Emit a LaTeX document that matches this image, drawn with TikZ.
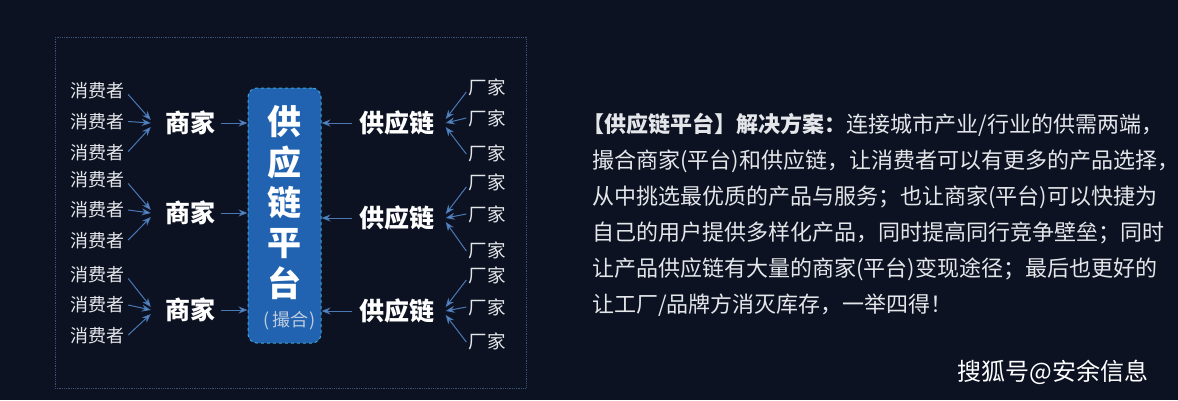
\documentclass[tikz,border=0pt]{standalone}
\usepackage{fontspec}
\setmainfont{Noto Sans CJK SC}
\usetikzlibrary{positioning}
\usetikzlibrary{arrows.meta}

\definecolor{bgnavy}{HTML}{0C1222}
\definecolor{platblue}{HTML}{2163B0}
\definecolor{platedge}{HTML}{3FA3CF}
\definecolor{arrblue}{HTML}{4A78B4}
\definecolor{tipblue}{HTML}{6C9BD6}
\definecolor{textgrey}{HTML}{E4E6EA}
\definecolor{framegrey}{HTML}{3A5278}

\tikzset{
  consumer/.style={text=textgrey, font=\fontsize{18}{20}\selectfont, inner sep=0pt},
  factory/.style={text=textgrey, font=\fontsize{18.5}{20}\selectfont, inner sep=0pt},
  merchant/.style={text=white, font=\fontsize{25}{28}\selectfont\bfseries, inner sep=0pt},
  supply/.style={text=white, font=\fontsize{25}{28}\selectfont\bfseries, inner sep=0pt},
  platform/.style={draw=platedge, dashed, fill=platblue, rounded corners=9pt,
    line width=1pt, minimum width=73pt, minimum height=255pt},
  ptext/.style={text=white, font=\fontsize{34}{40.3}\selectfont\bfseries, align=center, inner sep=0pt},
  psub/.style={text=textgrey!80!platblue, font=\fontsize{18}{20}\selectfont, inner sep=0pt},
  arr/.style={draw=arrblue, line width=1pt, -{Stealth[length=9pt,width=7pt,fill=tipblue]}},
  desc/.style={text=textgrey, font=\fontsize{22}{36}\selectfont, align=left, inner sep=0pt},
}

\begin{document}
\begin{tikzpicture}[x=1pt,y=-1pt]
  \fill[bgnavy] (0,0) rectangle (1178,400);
  \useasboundingbox (0,0) rectangle (1178,400);
  \draw[framegrey, densely dotted, line width=0.8pt] (55,37) rectangle (526,388);

  % centre
  \node[platform] (p) at (284.5,215.5) {};
  \node[ptext] (pt) at (284.5,202.5) {供\\应\\链\\平\\台};
  \node[psub] (ps) at (290,321) {(\kern2pt 撮合\kern2pt)};

  % merchants and consumers
  \node[merchant] (m1) at (190,123) {商家};
  \node[merchant] (m2) at (190,213) {商家};
  \node[merchant] (m3) at (190,310) {商家};
  \node[consumer] (c11) at (97,90.5) {消费者};
  \node[consumer] (c12) at (97,121.5) {消费者};
  \node[consumer] (c13) at (97,152.5) {消费者};
  \node[consumer] (c21) at (97,179.5) {消费者};
  \node[consumer] (c22) at (97,210) {消费者};
  \node[consumer] (c23) at (97,241) {消费者};
  \node[consumer] (c31) at (97,274.5) {消费者};
  \node[consumer] (c32) at (97,305) {消费者};
  \node[consumer] (c33) at (97,336) {消费者};

  % supply chains and factories
  \node[supply] (s1) at (397,123) {供应链};
  \node[supply] (s2) at (397,218) {供应链};
  \node[supply] (s3) at (397,311) {供应链};
  \node[factory] (f11) at (487,87) {厂家};
  \node[factory] (f12) at (487,118) {厂家};
  \node[factory] (f13) at (487,153) {厂家};
  \node[factory] (f21) at (487,182) {厂家};
  \node[factory] (f22) at (487,214) {厂家};
  \node[factory] (f23) at (487,250) {厂家};
  \node[factory] (f31) at (487,275) {厂家};
  \node[factory] (f32) at (487,307) {厂家};
  \node[factory] (f33) at (487,341) {厂家};

  % consumers -> merchants
  \draw[arr] ([xshift=4pt,yshift=-4pt]c11.east) -- ([xshift=-14pt,yshift=3pt]m1.west);
  \draw[arr] ([xshift=4pt]c12.east) -- ([xshift=-14pt]m1.west);
  \draw[arr] ([xshift=4pt,yshift=1pt]c13.east) -- ([xshift=-14pt,yshift=-4pt]m1.west);
  \draw[arr] ([xshift=4pt,yshift=-4pt]c21.east) -- ([xshift=-14pt,yshift=3pt]m2.west);
  \draw[arr] ([xshift=4pt]c22.east) -- ([xshift=-14pt]m2.west);
  \draw[arr] ([xshift=4pt,yshift=1pt]c23.east) -- ([xshift=-14pt,yshift=-4pt]m2.west);
  \draw[arr] ([xshift=4pt,yshift=-4pt]c31.east) -- ([xshift=-14pt,yshift=3pt]m3.west);
  \draw[arr] ([xshift=4pt]c32.east) -- ([xshift=-14pt]m3.west);
  \draw[arr] ([xshift=4pt,yshift=1pt]c33.east) -- ([xshift=-14pt,yshift=-4pt]m3.west);

  % merchants -> platform
  \draw[arr] ([xshift=6pt]m1.east) -- (m1.east -| p.west);
  \draw[arr] ([xshift=6pt]m2.east) -- (m2.east -| p.west);
  \draw[arr] ([xshift=6pt]m3.east) -- (m3.east -| p.west);

  % factories -> supply chains
  \draw[arr] ([xshift=-2pt,yshift=-5pt]f11.west) -- ([xshift=11pt,yshift=4pt]s1.east);
  \draw[arr] ([xshift=-2pt]f12.west) -- ([xshift=11pt]s1.east);
  \draw[arr] ([xshift=-2pt,yshift=-1pt]f13.west) -- ([xshift=11pt,yshift=-4pt]s1.east);
  \draw[arr] ([xshift=-2pt,yshift=-5pt]f21.west) -- ([xshift=11pt,yshift=4pt]s2.east);
  \draw[arr] ([xshift=-2pt]f22.west) -- ([xshift=11pt]s2.east);
  \draw[arr] ([xshift=-2pt,yshift=-1pt]f23.west) -- ([xshift=11pt,yshift=-4pt]s2.east);
  \draw[arr] ([xshift=-2pt,yshift=-5pt]f31.west) -- ([xshift=11pt,yshift=4pt]s3.east);
  \draw[arr] ([xshift=-2pt]f32.west) -- ([xshift=11pt]s3.east);
  \draw[arr] ([xshift=-2pt,yshift=-1pt]f33.west) -- ([xshift=11pt,yshift=-4pt]s3.east);

  % supply chains -> platform
  \draw[arr] ([xshift=-7pt]s1.west) -- (s1.west -| p.east);
  \draw[arr] ([xshift=-7pt]s2.west) -- (s2.west -| p.east);
  \draw[arr] ([xshift=-7pt]s3.west) -- (s3.west -| p.east);

  % description
  \node[desc, anchor=west] (d) at (592,215) {%
    {\bfseries\kern-0.42em 【供应链平台】解决方案：}连接城市产业/行业的供需两端，\\
    撮合商家(平台)和供应链，让消费者可以有更多的产品选择，\\
    从中挑选最优质的产品与服务；也让商家(平台)可以快捷为\\
    自己的用户提供多样化产品，同时提高同行竞争壁垒；同时\\
    让产品供应链有大量的商家(平台)变现途径；最后也更好的\\
    让工厂/品牌方消灭库存，一举四得！};
  \node[text=white, font=\fontsize{24}{26}\selectfont, inner sep=0pt] (w) at (1053,372) {搜狐号@安余信息};
\end{tikzpicture}
\end{document}
